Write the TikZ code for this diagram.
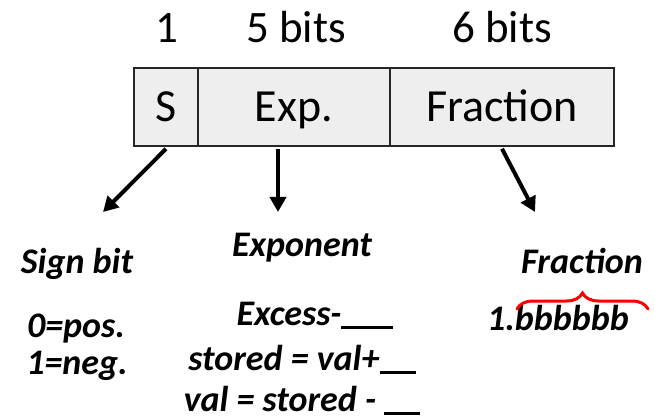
\documentclass[tikz,border=0pt]{standalone}
\usepackage{fontspec}
\setmainfont{Carlito}
\usetikzlibrary{arrows.meta,decorations.pathreplacing}
\definecolor{cellfill}{RGB}{238,238,238}
\definecolor{bracered}{RGB}{255,0,0}
% a solid blank to be filled in
\newcommand{\blankline}[1]{\rule[-4pt]{#1}{3pt}}
\tikzset{
  cell/.style={draw=black!85, line width=1.6pt, fill=cellfill, minimum height=78pt,
    text height=30pt, text depth=0pt, inner sep=0pt, font=\fontsize{46}{50}\selectfont},
  bitlabel/.style={anchor=base, inner sep=0pt, font=\fontsize{45}{50}\selectfont},
  note/.style={anchor=base, inner sep=0pt, font=\fontsize{36}{40}\selectfont\bfseries\itshape},
  pointer/.style={line width=4pt, -{Triangle[length=15pt,width=16pt]}},
  fracbrace/.style={draw=bracered, line width=3pt, line cap=round, decorate,
    decoration={brace, amplitude=16pt}}
}
\begin{document}
\begin{tikzpicture}[x=1pt,y=-1pt]
\useasboundingbox (0,0) rectangle (655,419);

% field widths above the word
\node[bitlabel] (lbl1) at (167,43) {1};
\node[bitlabel] (lbl5) at (296,43) {5 bits};
\node[bitlabel] (lbl6) at (502,43) {6 bits};

% the three fields of the word
\node[cell, minimum width=64pt]  (cs) at (166,107) {S};
\node[cell, minimum width=192pt] (ce) at (294,107) {Exp.};
\node[cell, minimum width=224pt] (cf) at (502,107) {Fraction};

% explanations
\node[note] (signHead) at (77,273) {Sign bit};
\node[note] (sign0)    at (76,337) {0=pos.};
\node[note] (sign1)    at (77,374) {1=neg.};

\node[note] (expHead) at (302,257) {Exponent};
\node[note] (exp1)    at (315,325) {Excess-\blankline{52pt}};
\node[note] (exp2)    at (302,370) {stored = val+\blankline{36pt}};
\node[note] (exp3)    at (302,411) {val = stored - \blankline{36pt}};

\node[note] (fracHead) at (582,273) {Fraction};
\node[note] (fracVal)  at (558,330) {1.bbbbbb};

% pointers from the fields
\coordinate (signTip) at (103,212);
\coordinate (expTip)  at (278,212);
\coordinate (fracTip) at (535,212);
\draw[pointer] ([yshift=-2pt]cs.south) -- (signTip);
\draw[pointer] ([xshift=-16pt,yshift=-2pt]ce.south) -- (expTip);
\draw[pointer] ([yshift=-2pt]cf.south) -- (fracTip);

% brace over the fraction bits
\coordinate (braceL) at (517,309);
\coordinate (braceR) at (648,309);
\draw[fracbrace] (braceL) -- (braceR);
\end{tikzpicture}
\end{document}
